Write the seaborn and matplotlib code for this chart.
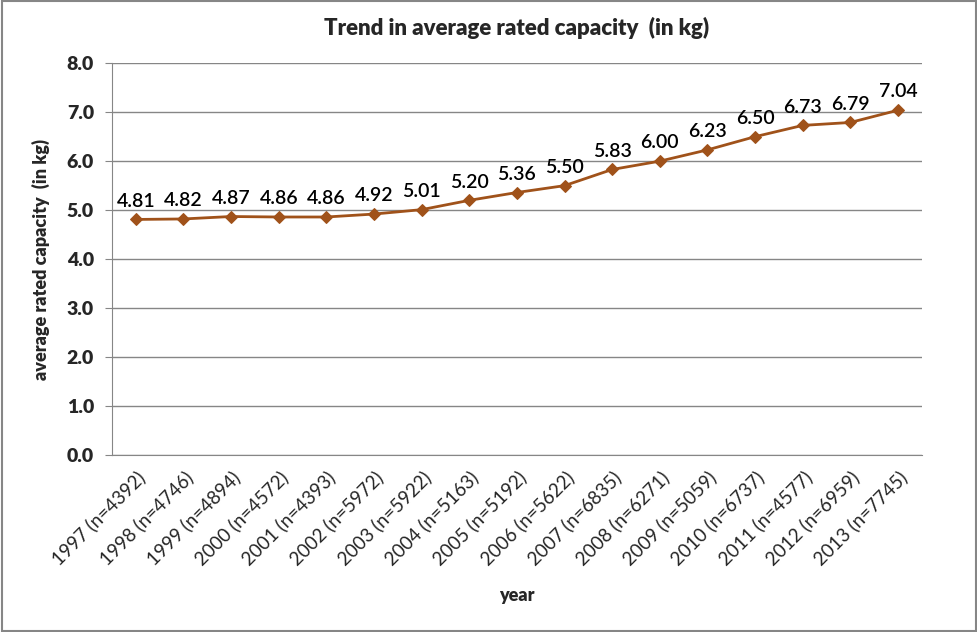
import matplotlib
matplotlib.use("Agg")
from matplotlib import pyplot as plt
import seaborn as sns
import pandas as pd

years = ["1997", "1998", "1999", "2000", "2001", "2002", "2003", "2004", "2005",
         "2006", "2007", "2008", "2009", "2010", "2011", "2012", "2013"]
counts = [4392, 4746, 4894, 4572, 4393, 5972, 5922, 5163, 5192,
          5622, 6835, 6271, 5059, 6737, 4577, 6959, 7745]
capacity = [4.81, 4.82, 4.87, 4.86, 4.86, 4.92, 5.01, 5.20, 5.36,
            5.50, 5.83, 6.00, 6.23, 6.50, 6.73, 6.79, 7.04]

labels = ["%s (n=%d)" % (y, n) for y, n in zip(years, counts)]
df = pd.DataFrame({"pos": range(len(years)), "capacity": capacity, "label": labels})

sns.set_style("white")
plt.rcParams["font.family"] = ["Lato", "DejaVu Sans"]

fig = plt.figure(figsize=(9.78, 6.32), dpi=100)
ax = fig.add_axes([0.1145, 0.28, 0.828, 0.62])

color = "#A0521A"
sns.lineplot(data=df, x="pos", y="capacity", ax=ax, color=color, linewidth=2,
             marker="D", markersize=6, markeredgecolor=color)

for p, v in zip(df["pos"], df["capacity"]):
    ax.text(p, v + 0.2, "%.2f" % v, ha="center", va="bottom", fontsize=14,
            fontweight="semibold", color="black")

ax.set_ylim(0, 8)
ax.set_yticks([i for i in range(9)])
ax.set_yticklabels(["%.1f" % i for i in range(9)], fontweight="heavy", fontsize=14)
ax.set_xlim(-0.5, len(years) - 0.5)
ax.set_xticks([i - 0.5 for i in range(len(years) + 1)])
ax.set_xticklabels([])
ax.set_xticks(list(range(len(years))), minor=True)
ax.set_xticklabels(labels, minor=True, rotation=45, ha="right", rotation_mode="anchor", fontsize=13.5)
ax.tick_params(axis="x", which="minor", length=0, pad=9)
ax.tick_params(axis="x", which="major", length=5, color="#868686", direction="out")
ax.tick_params(axis="y", length=5, color="#868686", direction="out", left=True, pad=8)

ax.yaxis.grid(True, color="#868686", linewidth=1)
ax.set_axisbelow(True)
for s in ["top", "right"]:
    ax.spines[s].set_visible(False)
for s in ["left", "bottom"]:
    ax.spines[s].set_color("#868686")

ax.set_xlabel("year", fontweight="heavy", fontsize=13, labelpad=14)
ax.set_ylabel("average rated capacity  (in kg)", fontweight="heavy", fontsize=13, labelpad=12)
ax.set_title("Trend in average rated capacity  (in kg)", fontweight="heavy", fontsize=16, pad=20)

fig.patches.append(plt.Rectangle((0.002, 0.002), 0.996, 0.996, transform=fig.transFigure,
                                 fill=False, edgecolor="#868686", linewidth=1.5))

fig.savefig("out.png", dpi=100)
